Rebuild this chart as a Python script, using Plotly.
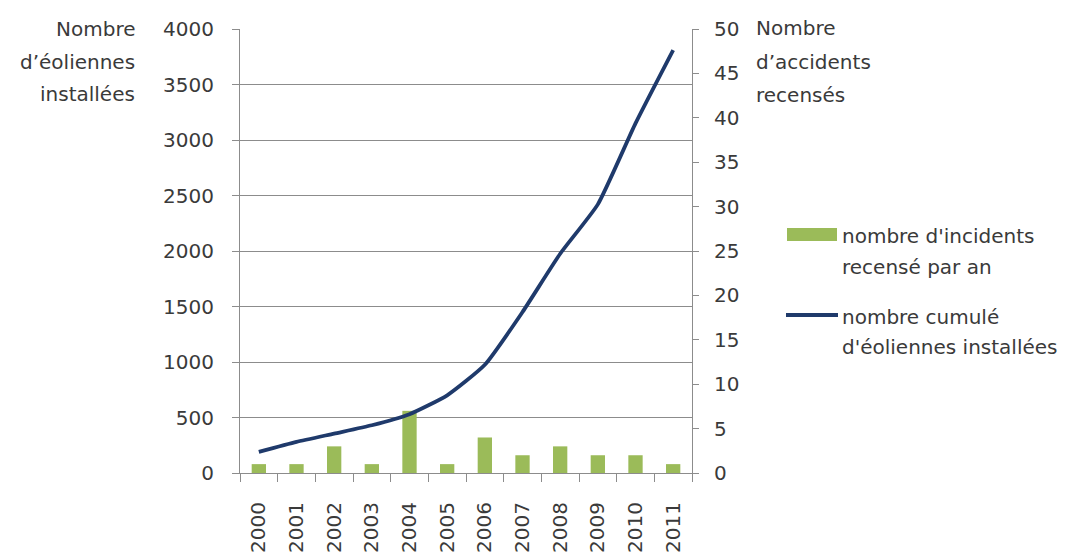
import plotly.graph_objects as go

# ---- data ----
years = ["2000", "2001", "2002", "2003", "2004", "2005",
         "2006", "2007", "2008", "2009", "2010", "2011"]
incidents_par_an = [1, 1, 3, 1, 7, 1, 4, 2, 3, 2, 2, 1]
eoliennes_cumul = [190, 280, 355, 430, 530, 700, 975, 1450, 1975, 2420, 3150, 3810]

left_ticks = [0, 500, 1000, 1500, 2000, 2500, 3000, 3500, 4000]
right_ticks = [0, 5, 10, 15, 20, 25, 30, 35, 40, 45, 50]

# ---- styles ----
W, H = 1081, 556
PL, PR, PT, PB = 240, 692, 29, 473
FONT = "DejaVu Sans"
FS = 20
TXT = "#3a3a3a"
GRID = "#8c8c8c"
GREEN = "#9BBB59"
NAVY = "#1F3A6B"


def px(x):
    return (x - PL) / (PR - PL)


def py(y):
    return (PB - y) / (PB - PT)


fig = go.Figure()
fig.add_trace(go.Bar(
    x=years, y=incidents_par_an, yaxis="y", marker_color=GREEN,
    marker_line_width=0, name="nombre d'incidents recensé par an"))
fig.add_trace(go.Scatter(
    x=years, y=eoliennes_cumul, yaxis="y2", mode="lines",
    line=dict(color=NAVY, width=3.8, shape="spline", smoothing=0.5),
    name="nombre cumulé d'éoliennes installées"))

annotations = []


def txt(text, x, y, xanchor="left"):
    annotations.append(dict(
        text=text, x=px(x), y=py(y), xref="paper", yref="paper",
        xanchor=xanchor, yanchor="middle", showarrow=False,
        font=dict(family=FONT, size=FS, color=TXT)))


# left axis title
txt("Nombre", 137, 29, "right")
txt("d’éoliennes", 137, 62, "right")
txt("installées", 137, 94, "right")
# right axis title
txt("Nombre", 754, 28)
txt("d’accidents", 754, 62)
txt("recensés", 754, 95)
# legend text
txt("nombre d'incidents", 840, 236)
txt("recensé par an", 840, 267)
txt("nombre cumulé", 840, 317)
txt("d'éoliennes installées", 840, 347)

shapes = [
    dict(type="rect", xref="paper", yref="paper",
         x0=px(787), x1=px(837), y0=py(241), y1=py(228),
         fillcolor=GREEN, line=dict(width=0)),
    dict(type="line", xref="paper", yref="paper",
         x0=px(786), x1=px(838), y0=py(315), y1=py(315),
         line=dict(color=NAVY, width=3.8)),
]

fig.update_layout(
    width=W, height=H,
    margin=dict(l=PL, r=W - PR, t=PT, b=H - PB, autoexpand=False),
    paper_bgcolor="white", plot_bgcolor="white",
    showlegend=False,
    bargap=0.62,
    font=dict(family=FONT, size=FS, color=TXT),
    xaxis=dict(
        type="category", range=[-0.5, 11.5], tickangle=-90,
        tickson="boundaries", ticks="outside", ticklen=8, tickcolor=GRID,
        showline=True, linecolor=GRID, showgrid=False, automargin=False,
        ticklabelstandoff=20,
        tickfont=dict(family=FONT, size=FS, color=TXT)),
    yaxis=dict(
        side="right", range=[0, 50], tickvals=right_ticks,
        ticks="outside", ticklen=6, tickcolor=GRID, automargin=False,
        showline=True, linecolor=GRID, showgrid=False, zeroline=False,
        ticklabelstandoff=11,
        tickfont=dict(family=FONT, size=FS, color=TXT)),
    yaxis2=dict(
        overlaying="y", side="left", range=[0, 4000], tickvals=left_ticks,
        ticks="outside", ticklen=7, tickcolor=GRID, automargin=False,
        showline=True, linecolor=GRID, showgrid=True, gridcolor=GRID,
        gridwidth=1, zeroline=False, ticklabelstandoff=14,
        tickfont=dict(family=FONT, size=FS, color=TXT)),
    annotations=annotations,
    shapes=shapes,
)

fig.write_html("out.html", config={"displayModeBar": False},
               post_script="document.body.style.margin='0';")
